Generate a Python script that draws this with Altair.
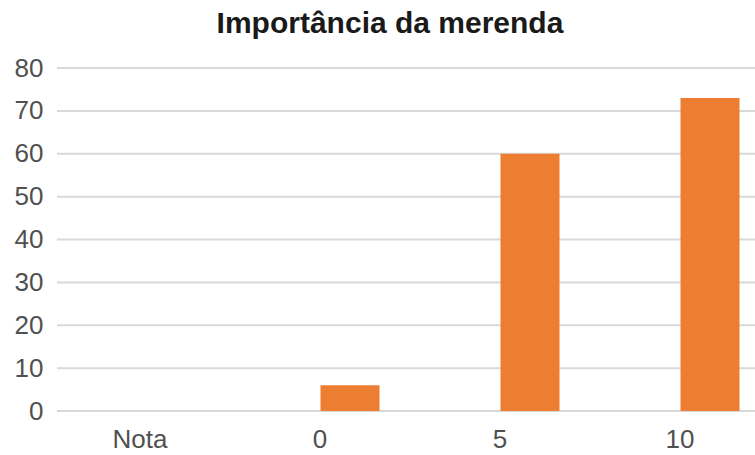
import altair as alt
import pandas as pd

categories = ["Nota", "0", "5", "10"]
values = [None, 6, 60, 73]
y_ticks = [0, 10, 20, 30, 40, 50, 60, 70, 80]

df = pd.DataFrame({"cat": categories, "val": values})
grid_df = pd.DataFrame({"tick": y_ticks})

FONT = "Liberation Sans"
W, H = 698, 343

grid = (
    alt.Chart(grid_df)
    .mark_rule(color="#d9d9d9", strokeWidth=2)
    .encode(
        y=alt.Y("tick:Q"),
        x=alt.value(0),
        x2=alt.value(W),
    )
)

bars = (
    alt.Chart(df)
    .mark_bar(color="#ED7D31", width=59, xOffset=30)
    .encode(
        x=alt.X(
            "cat:N",
            sort=categories,
            scale=alt.Scale(range=[-7, 713], paddingInner=0, paddingOuter=0),
            axis=alt.Axis(
                title=None,
                labelAngle=0,
                ticks=False,
                domain=False,
                grid=False,
                labelFont=FONT,
                labelFontSize=26,
                labelColor="#505050",
                labelPadding=15,
            ),
        ),
        y=alt.Y(
            "val:Q",
            scale=alt.Scale(domain=[0, 80], nice=False),
            axis=alt.Axis(
                title=None,
                values=y_ticks,
                ticks=False,
                domain=False,
                grid=False,
                labelFont=FONT,
                labelFontSize=26,
                labelColor="#505050",
                labelPadding=14,
            ),
        ),
    )
)

chart = (
    alt.layer(grid, bars)
    .resolve_scale(y="shared")
    .properties(
        width=W,
        height=H,
        title=alt.TitleParams(
            "Importância da merenda",
            font=FONT,
            fontSize=30,
            fontWeight="bold",
            color="#1a1a1a",
            anchor="middle",
            offset=16,
            dx=-16,
        ),
        autosize=alt.AutoSizeParams(type="none"),
        padding={"left": 57, "top": 68, "right": 0, "bottom": 44},
    )
    .configure_view(stroke=None)
)

chart.save("out.html", embed_options={"renderer": "svg", "actions": False})
